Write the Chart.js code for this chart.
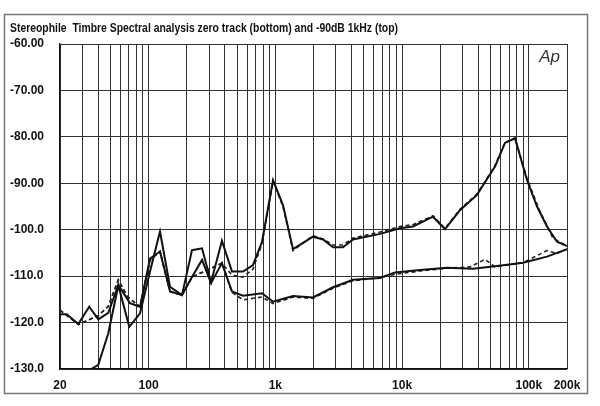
<!DOCTYPE html>
<html>
<head>
<meta charset="utf-8">
<script src="https://cdn.jsdelivr.net/npm/chart.js@4"></script>
<style>
html,body{margin:0;padding:0;background:#fff;}
#wrap{width:600px;height:406px;}
</style>
</head>
<body>
<div id="wrap"><canvas id="c" width="600" height="406"></canvas></div>
<script>
// ---- data ----
const titleText = 'Stereophile  Timbre Spectral analysis zero track (bottom) and -90dB 1kHz (top)';
const xTickValues = [20, 100, 1000, 10000, 100000, 200000];
const xTickLabels = ['20', '100', '1k', '10k', '100k', '200k'];
const yTickValues = [-130, -120, -110, -100, -90, -80, -70, -60];
const yTickLabels = ['-130.0', '-120.0', '-110.0', '-100.0', '-90.00', '-80.00', '-70.00', '-60.00'];

// -90dB 1kHz (top) - solid
const topSolidFreq = [20, 33.9, 40.1, 48.1, 57.7, 70.4, 85.6, 102.6, 123, 147.6, 183.5, 220, 264, 311, 379, 455, 556, 666, 785, 959, 1149, 1378, 1982, 2377, 2851, 3418, 4099, 6693, 9626, 12190, 17530, 21800, 28630, 38990, 54080, 64850, 77770, 96700, 116000, 139100, 166800, 200000];
const topSolidDb = [-145, -130.3, -129.1, -122.3, -112.0, -120.9, -118.0, -109.0, -100.4, -112.3, -114.1, -104.4, -104.0, -111.3, -102.4, -109.0, -109.0, -107.6, -102.6, -89.3, -94.7, -104.2, -101.5, -102.1, -103.8, -103.8, -102.1, -100.9, -99.7, -99.3, -97.2, -99.9, -95.8, -92.5, -86.4, -81.3, -80.3, -89.3, -95.0, -99.3, -102.6, -103.5];

// -90dB 1kHz (top) - dashed
const topDashFreq = [20, 27.9, 40.1, 48.1, 57.7, 68, 85.6, 102.6, 123, 147.6, 183.5, 220, 264, 379, 455, 556, 666, 785, 959, 1149, 1378, 1982, 2377, 2851, 3418, 4099, 6693, 9626, 12190, 17530, 21800, 28630, 38990, 54080, 64850, 77770, 96700, 122500, 154900, 200000];
const topDashDb = [-117.3, -120.4, -118.5, -116.5, -110.8, -114.4, -116.6, -106.5, -104.7, -113.3, -114.1, -110.2, -109.2, -107.2, -109.8, -110.2, -108.5, -103.0, -89.6, -95.0, -104.5, -101.3, -102.0, -103.3, -103.3, -101.8, -100.5, -99.3, -98.9, -97.0, -99.7, -95.6, -92.3, -86.2, -81.2, -80.3, -89.0, -96.1, -101.8, -103.5];

// zero track (bottom) - solid
const botSolidFreq = [20, 22.6, 27.9, 34.0, 40.1, 48.1, 57.7, 71.3, 85.6, 102.6, 123, 147.6, 183.5, 220, 264, 311, 379, 455, 556, 785, 959, 1378, 1982, 2851, 4099, 6693, 8790, 13840, 22600, 36240, 56100, 89900, 139100, 200000];
const botSolidDb = [-118.2, -118.2, -120.3, -116.6, -119.3, -117.9, -111.9, -115.8, -116.6, -106.2, -104.7, -113.3, -114.1, -110.2, -106.5, -111.5, -107.2, -113.3, -114.2, -113.7, -115.5, -114.3, -114.6, -112.4, -110.8, -110.4, -109.2, -108.7, -108.2, -108.4, -107.8, -107.1, -105.8, -104.2];

// zero track (bottom) - dashed
const botDashFreq = [20, 27.9, 40.1, 48.1, 57.7, 68, 85.6, 102.6, 123, 147.6, 183.5, 220, 264, 379, 455, 556, 785, 959, 1378, 1982, 2851, 4099, 6693, 8790, 13840, 22600, 34360, 45100, 54080, 89900, 139100, 166800, 200000];
const botDashDb = [-117.3, -120.4, -118.5, -116.5, -110.8, -114.4, -116.6, -106.5, -104.7, -113.3, -114.1, -110.2, -109.2, -107.2, -113.5, -115.1, -114.5, -115.9, -114.5, -114.8, -112.6, -111.0, -110.3, -109.6, -108.9, -108.3, -108.0, -106.4, -108.0, -107.1, -104.5, -105.1, -104.2];

// ---- chart ----
const toPts = (f, d) => f.map((v, i) => ({x: v, y: d[i]}));
const gridFreqs = [];
for (let dec = 10; dec <= 100000; dec *= 10) {
  for (let m = 1; m <= 9; m++) {
    const v = m * dec;
    if (v >= 20 && v <= 100000) gridFreqs.push(v);
  }
}
gridFreqs.push(200000);

const decor = {
  id: 'decor',
  beforeDraw(chart) {
    const ctx = chart.ctx;
    ctx.save();
    ctx.fillStyle = '#ffffff';
    ctx.fillRect(0, 0, chart.width, chart.height);
    ctx.strokeStyle = '#777';
    ctx.lineWidth = 1.5;
    ctx.strokeRect(4.5, 14.5, 583, 379);
    ctx.restore();
  },
  afterDraw(chart) {
    const ctx = chart.ctx;
    const a = chart.chartArea;
    ctx.save();
    // condensed bold title
    ctx.font = 'bold 13.5px "Liberation Sans", Arial, sans-serif';
    ctx.fillStyle = '#111';
    ctx.textAlign = 'left';
    ctx.textBaseline = 'alphabetic';
    const w = ctx.measureText(titleText).width;
    const sx = 388 / w;
    ctx.translate(10, 31.5);
    ctx.scale(sx, 1);
    ctx.fillText(titleText, 0, 0);
    ctx.restore();

    ctx.save();
    ctx.font = 'italic 17px "Liberation Sans", Arial, sans-serif';
    ctx.fillStyle = '#333';
    ctx.textAlign = 'right';
    ctx.textBaseline = 'top';
    ctx.fillText('Ap', a.right - 7, a.top + 5);
    ctx.restore();
  }
};

const solidStyle = {borderColor: '#111', borderWidth: 2, pointRadius: 0, tension: 0, fill: false};
const dashStyle = {borderColor: '#222', borderWidth: 1.6, borderDash: [4, 3], pointRadius: 0, tension: 0, fill: false};

new Chart(document.getElementById('c'), {
  type: 'line',
  data: {
    datasets: [
      Object.assign({label: 'Zero track solid', data: toPts(botSolidFreq, botSolidDb)}, solidStyle),
      Object.assign({label: 'Zero track dashed', data: toPts(botDashFreq, botDashDb)}, dashStyle),
      Object.assign({label: '-90dB 1kHz solid', data: toPts(topSolidFreq, topSolidDb)}, solidStyle),
      Object.assign({label: '-90dB 1kHz dashed', data: toPts(topDashFreq, topDashDb)}, dashStyle)
    ]
  },
  options: {
    responsive: false,
    animation: false,
    layout: {padding: {left: 10, right: 33, top: 44, bottom: 0}},
    plugins: {
      legend: {display: false},
      tooltip: {enabled: false},
      title: {display: false, text: titleText}
    },
    scales: {
      x: {
        type: 'logarithmic',
        min: 20,
        max: 200000,
        afterBuildTicks(scale) { scale.ticks = gridFreqs.map(v => ({value: v})); },
        afterFit(scale) { scale.height = 37; },
        ticks: {
          autoSkip: false,
          maxRotation: 0,
          padding: 9,
          color: '#111',
          font: {family: '"Liberation Sans", Arial, sans-serif', size: 12, weight: 'bold'},
          callback(value) {
            const i = xTickValues.indexOf(value);
            return i >= 0 ? xTickLabels[i] : '';
          }
        },
        grid: {color: '#333', lineWidth: 1, drawTicks: false},
        border: {display: true, color: '#111', width: 1.2}
      },
      y: {
        type: 'linear',
        min: -130,
        max: -60,
        afterBuildTicks(scale) { scale.ticks = yTickValues.map(v => ({value: v})); },
        afterFit(scale) { scale.width = 50; },
        ticks: {
          crossAlign: 'far',
          padding: 4,
          color: '#111',
          font: {family: '"Liberation Sans", Arial, sans-serif', size: 12, weight: 'bold'},
          callback(value) {
            const i = yTickValues.indexOf(value);
            return i >= 0 ? yTickLabels[i] : '';
          }
        },
        grid: {color: '#333', lineWidth: 1, drawTicks: false},
        border: {display: true, color: '#111', width: 1.2}
      }
    }
  },
  plugins: [decor]
});
</script>
</body>
</html>
